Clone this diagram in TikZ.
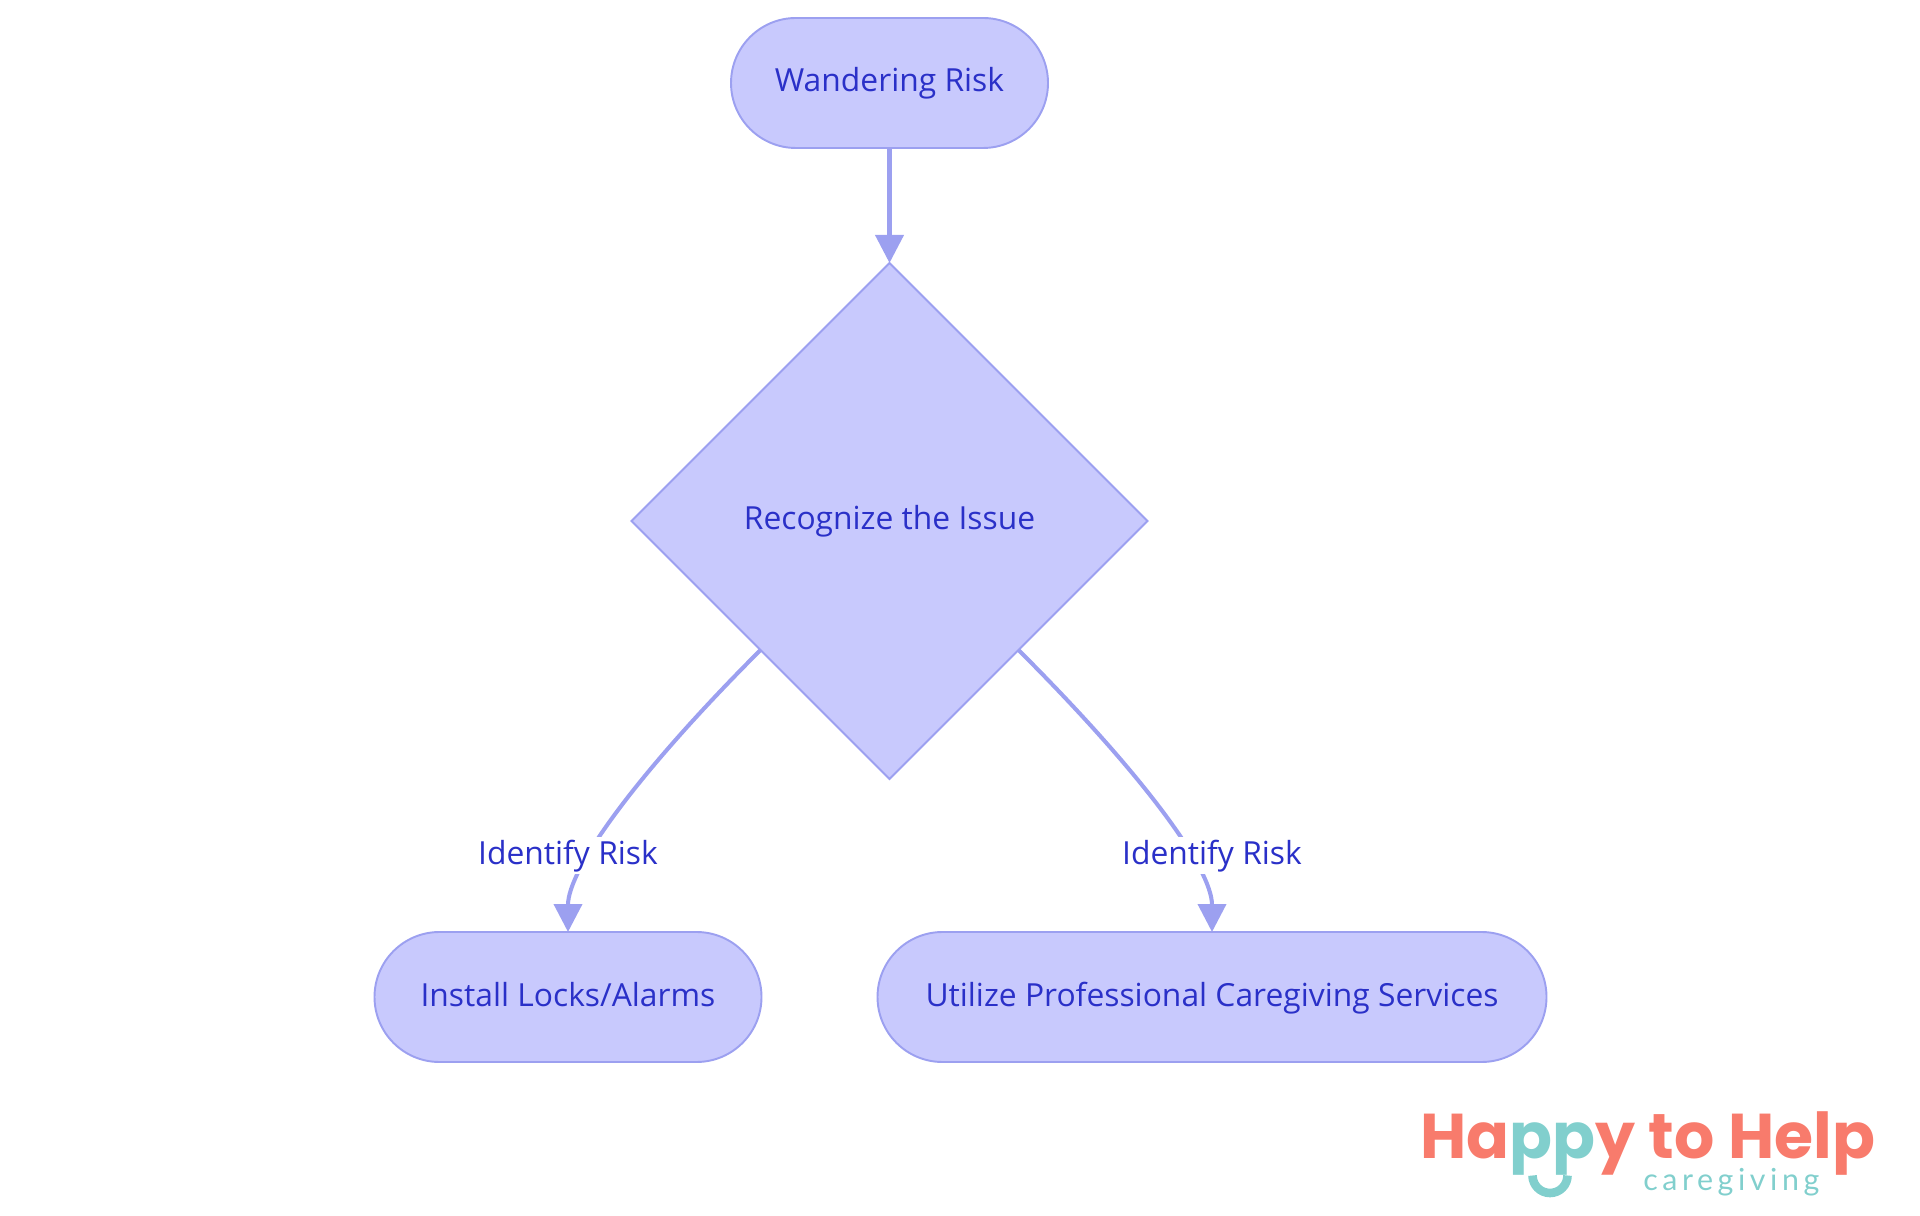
\documentclass[tikz,border=0pt]{standalone}
\usepackage{fontspec}
\setmainfont{Open Sans}
\newfontfamily\logofont{Poppins}
\newfontfamily\tagfont[LetterSpace=15]{Lato}
\usetikzlibrary{arrows.meta,shapes.geometric}
\definecolor{nodefill}{RGB}{200,201,253}
\definecolor{nodeline}{RGB}{156,160,240}
\definecolor{nodetext}{RGB}{42,48,200}
\definecolor{logocoral}{RGB}{248,123,108}
\definecolor{logoteal}{RGB}{129,207,205}
\begin{document}
\begin{tikzpicture}[->,>={Triangle[length=0.56cm,width=0.56cm,fill=nodeline,color=nodeline]},
                       main node/.style={draw=nodeline,fill=nodefill,text=nodetext,line width=1.1pt,font=\fontsize{18.1}{22}\selectfont,text height=0.5cm,text depth=0.14cm,outer sep=0pt,inner sep=0pt},
                       term node/.style={main node,rectangle,rounded corners=1.3cm,minimum height=2.6cm},
                       risk label/.style={fill=white,text=nodetext,font=\fontsize{18.1}{22}\selectfont,text height=0.5cm,text depth=0.14cm,inner sep=1pt,minimum height=0.74cm},
                       flow/.style={draw=nodeline,line width=2.3pt}
                      ]
  \useasboundingbox (0,0) rectangle (38.4,24.3);

  \node[term node,minimum width=6.34cm] (wander) at (17.79,22.64) {Wandering Risk};
  \node[main node,diamond,aspect=1,minimum size=10.32cm] (issue) at (17.79,13.88) {Recognize the Issue};
  \node[term node,minimum width=7.74cm] (locks) at (11.36,4.36) {Install Locks/Alarms};
  \node[term node,minimum width=13.38cm] (care) at (24.24,4.36) {Utilize Professional Caregiving Services};

  \path%
   (wander) edge [flow] (issue.north)
   (issue.south west) edge [flow,out=225,in=90,out looseness=1.33,in looseness=0.47] (locks.north)
   (issue.south east) edge [flow,out=-45,in=90,out looseness=1.33,in looseness=0.47] (care.north);

  \node[risk label] (riskA) at (11.36,7.19) {Identify Risk};
  \node[risk label] (riskB) at (24.24,7.19) {Identify Risk};

  % logo
  \node[anchor=base west,inner sep=0pt,text=logocoral,font=\logofont\bfseries\fontsize{36}{42}\selectfont] (logo) at (28.40,1.14) {Ha\textcolor{logoteal}{pp}y to Help};
  \node[anchor=base west,inner sep=0pt,text=logoteal,font=\tagfont\fontsize{17.3}{20}\selectfont] (tag) at (32.86,0.50) {caregiving};
  \coordinate (smile) at (30.65,0.79);
  \draw[-,logoteal,line width=4.9pt] (smile) arc (180:360:0.35);
\end{tikzpicture}
\end{document}
